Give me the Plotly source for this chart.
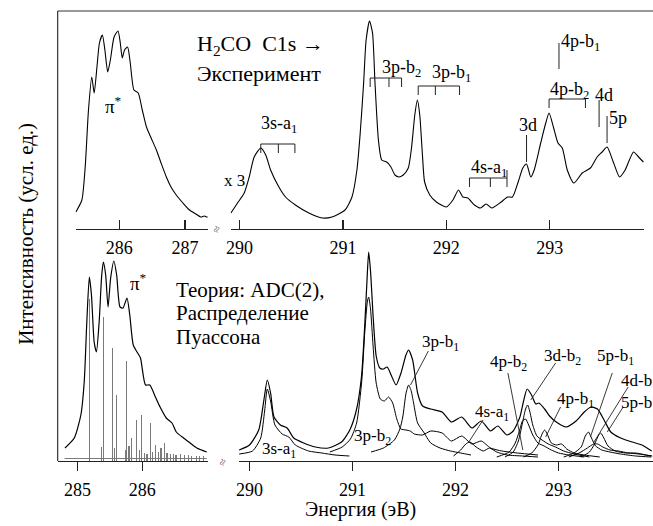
import plotly.graph_objects as go

W, H = 653, 526
def px(x): return x / W
def py(y): return 1 - y / H

FONT = "Liberation Serif, Times New Roman, serif"

# ---------------- DATA ----------------
# Experiment, pi* region (eV, arb. units)
exp_pi_E = [285.338, 285.429, 285.48, 285.53, 285.58, 285.617, 285.659, 285.697, 285.742, 285.78,
            285.823, 285.864, 285.92, 285.98, 286.015, 286.045, 286.08, 286.126, 286.167, 286.223,
            286.288, 286.35, 286.414, 286.485, 286.565, 286.636, 286.717, 286.788, 286.868, 286.97,
            287.07, 287.167, 287.242, 287.3, 287.326, 287.35]
exp_pi_I = [17, 29, 62, 119, 152, 136, 162, 186, 194, 179,
            157, 169, 192, 198, 186, 171, 179, 182, 166, 139,
            136, 119, 102, 91, 79, 66, 52, 42, 34, 26,
            19, 15, 12, 13, 12, 12]

# Experiment, Rydberg region (x3)
exp_ry_E = [289.916, 289.98, 290.045, 290.093, 290.141, 290.205, 290.253, 290.30, 290.38, 290.445,
            290.54, 290.67, 290.80, 290.894, 291.02, 291.087, 291.135, 291.167, 291.2, 291.224,
            291.257, 291.286, 291.31, 291.343, 291.375, 291.423, 291.464, 291.503, 291.541, 291.583,
            291.632, 291.663, 291.695, 291.72, 291.743, 291.769, 291.79, 291.84, 291.904, 292.0,
            292.064, 292.118, 292.16, 292.208, 292.272, 292.33, 292.385, 292.44, 292.53, 292.593,
            292.64, 292.695, 292.74, 292.776, 292.817, 292.85, 292.913, 292.962, 292.994, 293.036,
            293.08, 293.122, 293.17, 293.234, 293.315, 293.394, 293.459, 293.507, 293.555, 293.619,
            293.676, 293.73, 293.811, 293.86, 293.907]
exp_ry_I = [16, 26, 36, 52, 72, 81, 74, 59, 42, 32,
            24, 16, 11, 12, 19, 32, 59, 96, 146, 189,
            208, 196, 146, 89, 69, 67, 62, 54, 52, 54,
            61, 81, 114, 129, 114, 74, 47, 34, 27, 22,
            29, 39, 32, 31, 24, 21, 25, 21, 27, 32,
            32, 47, 61, 65, 52, 59, 86, 106, 116, 102,
            86, 81, 59, 46, 56, 61, 72, 77, 82, 66,
            52, 59, 77, 72, 67]

# Theory, pi* region: envelope and Poisson stick spectrum
th_pi_E = [284.805, 284.949, 285.051, 285.103, 285.143, 285.182, 285.215, 285.257, 285.292, 285.334,
           285.374, 285.40, 285.435, 285.472, 285.512, 285.562, 285.605, 285.657, 285.703, 285.765,
           285.808, 285.862, 285.93, 285.974, 286.051, 286.118, 286.205, 286.277, 286.374, 286.462,
           286.528, 286.64, 286.743, 286.846, 287.0]
th_pi_I = [13, 23, 46, 79, 139, 184, 166, 119, 109, 139,
           186, 199, 186, 154, 183, 200, 186, 154, 153, 163,
           146, 116, 108, 103, 76, 76, 64, 54, 43, 38,
           29, 23, 18, 13, 9]

stick_E = [285.18, 285.374, 285.40, 285.538, 285.574, 285.605, 285.743, 285.759, 285.795, 285.83,
           285.913, 285.954, 285.985, 286.036, 286.077, 286.128, 286.164, 286.205, 286.257, 286.292,
           286.349, 286.385, 286.436, 286.487, 286.523, 286.59, 286.651, 286.718, 286.769, 286.836,
           286.887, 286.949]
stick_I = [162, 14, 144, 113, 13, 66, 11, 100, 15, 23,
           41, 11, 46, 8, 7, 38, 9, 16, 9, 13,
           18, 8, 7, 7, 6, 7, 6, 6, 5, 5,
           5, 5]

# Theory, Rydberg region: total spectrum
th_tot_E = [289.90, 290.00, 290.09, 290.14, 290.173, 290.205, 290.238, 290.30, 290.365, 290.43,
            290.526, 290.64, 290.766, 290.894, 290.974, 291.038, 291.087, 291.118, 291.141, 291.157,
            291.175, 291.20, 291.23, 291.265, 291.30, 291.337, 291.375, 291.423, 291.471, 291.519,
            291.545, 291.584, 291.632, 291.68, 291.76, 291.87, 291.96, 292.06, 292.16, 292.25,
            292.34, 292.41, 292.50, 292.56, 292.625, 292.663, 292.695, 292.738, 292.779, 292.81,
            292.865, 292.913, 292.978, 293.074, 293.17, 293.25, 293.314, 293.378, 293.442, 293.507,
            293.603, 293.714, 293.81, 293.904]
th_tot_I = [11, 16, 31, 61, 81, 68, 44, 36, 33, 23,
            18, 14, 13, 19, 31, 51, 84, 134, 181, 209,
            190, 145, 105, 93, 92, 94, 86, 76, 88, 106,
            111, 101, 68, 55, 52, 49, 39, 44, 33, 40,
            30, 35, 26, 30, 44, 61, 72, 66, 57, 58,
            52, 45, 39, 34, 40, 49, 54, 52, 41, 29,
            23, 19, 16, 10]

# Theory components
c3s_E = [289.90, 290.03, 290.109, 290.147, 290.173, 290.205, 290.247, 290.317, 290.382, 290.445,
         290.574, 290.702, 290.83, 290.97]
c3s_I = [7, 10, 23, 50, 72, 60, 36, 27, 24, 16, 10, 8, 6, 5]

c3pb2_E = [290.78, 290.90, 290.98, 291.04, 291.09, 291.12, 291.145, 291.157, 291.175, 291.20,
           291.23, 291.27, 291.31, 291.35, 291.39, 291.43, 291.47, 291.52, 291.56, 291.60,
           291.68, 291.76, 291.87, 291.96, 292.06, 292.16, 292.25, 292.34, 292.45, 292.6, 292.8]
c3pb2_I = [9, 14, 22, 38, 80, 130, 160, 164, 152, 115,
           78, 62, 60, 64, 58, 42, 32, 31, 30, 27,
           26, 30, 28, 20, 25, 17, 20, 13, 10, 8, 6]

c3pb1_E = [291.18, 291.30, 291.407, 291.46, 291.488, 291.52, 291.545, 291.57, 291.593, 291.632,
           291.69, 291.76, 291.85, 291.95, 292.05, 292.15]
c3pb1_I = [9, 13, 21, 32, 44, 68, 76, 70, 58, 38, 29, 18, 13, 10, 8, 6]

c4sa1_E = [291.98, 292.05, 292.10, 292.14, 292.20, 292.27, 292.33, 292.40, 292.50, 292.65, 292.8]
c4sa1_I = [5, 11, 17, 19, 14, 10, 13, 9, 6, 5, 4]

c4pb2_E = [292.40, 292.52, 292.58, 292.62, 292.65, 292.68, 292.71, 292.75, 292.80, 292.86,
           292.93, 293.0, 293.1, 293.25]
c4pb2_I = [4, 9, 18, 30, 40, 42, 36, 26, 18, 15, 11, 8, 6, 4]

c3db2_E = [292.48, 292.56, 292.61, 292.65, 292.68, 292.70, 292.72, 292.75, 292.79, 292.84,
           292.90, 292.97, 293.05, 293.15, 293.3]
c3db2_I = [4, 9, 20, 38, 52, 56, 50, 36, 25, 21, 17, 14, 10, 7, 4]

c4pb1_E = [292.66, 292.74, 292.80, 292.84, 292.865, 292.89, 292.93, 292.98, 293.03, 293.08,
           293.15, 293.25, 293.4]
c4pb1_I = [4, 8, 16, 27, 31, 27, 18, 16, 17, 12, 8, 6, 4]

c5pb1_E = [293.05, 293.15, 293.22, 293.26, 293.29, 293.32, 293.36, 293.42, 293.5, 293.6, 293.75, 293.9]
c5pb1_I = [4, 8, 14, 25, 29, 23, 15, 11, 9, 7, 5, 4]

c4db_E = [293.1, 293.2, 293.28, 293.34, 293.38, 293.43, 293.5, 293.58, 293.68, 293.78, 293.9]
c4db_I = [4, 8, 13, 17, 17, 14, 11, 10, 8, 7, 5]

c5pb_E = [293.22, 293.30, 293.35, 293.39, 293.41, 293.44, 293.48, 293.55, 293.65, 293.75, 293.85, 293.91]
c5pb_I = [4, 9, 17, 26, 28, 23, 15, 10, 8, 8, 6, 5]

# Axis ticks
ticks_pi_exp = [286, 287]
ticks_pi_th = [285, 286]
ticks_ry = [290, 291, 292, 293]

# Experimental assignment brackets: (label, energies, bracket level)
exp_brackets = [
    ("3s-a<sub>1</sub>", [290.205, 290.375, 290.535], 85),
    ("3p-b<sub>2</sub>", [291.263, 291.445, 291.567], 151),
    ("3p-b<sub>1</sub>", [291.728, 291.894, 292.128], 143),
    ("4s-a<sub>1</sub>", [292.224, 292.426, 292.587], 51),
    ("4p-b<sub>2</sub>", [292.994, 293.346], 130),
]
exp_marks = [  # (label, energy, low, high)
    ("3d", 292.776, 67, 94),
    ("4p-b<sub>1</sub>", 293.09, 160, 186),
    ("4d", 293.478, 102, 129),
    ("5p", 293.555, 86, 113),
]

# ---------------- FIGURE ----------------
fig = go.Figure()
ln = dict(color="black", width=1.1, shape="spline", smoothing=0.6)

def add(xs, ys, xa, ya, width=1.1):
    fig.add_trace(go.Scatter(x=xs, y=ys, mode="lines", xaxis=xa, yaxis=ya,
                             line=dict(ln, width=width), showlegend=False, hoverinfo="skip"))

add(exp_pi_E, exp_pi_I, "x", "y")
add(exp_ry_E, exp_ry_I, "x2", "y2")

fig.add_trace(go.Bar(x=stick_E, y=stick_I, xaxis="x3", yaxis="y3", width=0.02,
                     marker=dict(color="#7a7a7a", line=dict(width=0)), showlegend=False,
                     hoverinfo="skip"))
add(th_pi_E, th_pi_I, "x3", "y3", 1.2)

add(th_tot_E, th_tot_I, "x4", "y4", 1.2)
for e, i in [(c3s_E, c3s_I), (c3pb2_E, c3pb2_I), (c3pb1_E, c3pb1_I), (c4sa1_E, c4sa1_I),
             (c4pb2_E, c4pb2_I), (c3db2_E, c3db2_I), (c4pb1_E, c4pb1_I), (c5pb1_E, c5pb1_I),
             (c4db_E, c4db_I), (c5pb_E, c5pb_I)]:
    add(e, i, "x4", "y4", 1.0)

axc = dict(showgrid=False, zeroline=False, showline=True, linecolor="#222", linewidth=1.2,
           tickcolor="#222", tickwidth=1.2, ticklen=9, tickmode="array", side="bottom",
           ticklabelposition="outside",
           tickfont=dict(family=FONT, size=18, color="black"))
yc = dict(visible=False, showgrid=False, zeroline=False)

fig.update_layout(
    width=W, height=H, autosize=False,
    margin=dict(l=0, r=0, t=0, b=0),
    paper_bgcolor="white", plot_bgcolor="rgba(0,0,0,0)",
    showlegend=False, bargap=0,
    xaxis=dict(axc, domain=[px(72), px(205)], range=[285.333, 287.348], anchor="y",
               ticks="inside", tickvals=ticks_pi_exp, ticklabelstandoff=2),
    yaxis=dict(yc, domain=[py(229), py(11)], range=[0, 218], anchor="x"),
    xaxis2=dict(axc, domain=[px(228), px(644)], range=[289.913, 293.913], anchor="y2",
                ticks="inside", tickvals=ticks_ry, ticklabelstandoff=2),
    yaxis2=dict(yc, domain=[py(229), py(11)], range=[0, 218], anchor="x2"),
    xaxis3=dict(axc, domain=[px(54), px(205)], range=[284.692, 287.015], anchor="y3",
                ticks="outside", tickvals=ticks_pi_th, ticklabelstandoff=3),
    yaxis3=dict(yc, domain=[py(461), py(245)], range=[0, 216], anchor="x3"),
    xaxis4=dict(axc, domain=[px(236), 1.0], range=[289.894, 293.917], anchor="y4",
                ticks="outside", tickvals=ticks_ry, ticklabelstandoff=3),
    yaxis4=dict(yc, domain=[py(461), py(245)], range=[0, 216], anchor="x4"),
)

shapes = []
frame = dict(color="#333", width=1.2)
shapes.append(dict(type="line", xref="paper", yref="paper", x0=px(54), x1=px(653),
                   y0=py(11), y1=py(11), line=frame))
shapes.append(dict(type="line", xref="paper", yref="paper", x0=px(54), x1=px(54),
                   y0=py(11), y1=py(461), line=frame))
# stick baseline
shapes.append(dict(type="line", xref="x3", yref="y3", x0=284.80, x1=287.0, y0=2.5, y1=2.5,
                   line=dict(color="#7a7a7a", width=1.2)))

br = dict(color="#222", width=1)
for lab, es, lev in exp_brackets:
    shapes.append(dict(type="line", xref="x2", yref="y2", x0=es[0], x1=es[-1], y0=lev, y1=lev, line=br))
    for e in es:
        shapes.append(dict(type="line", xref="x2", yref="y2", x0=e, x1=e, y0=lev - 9, y1=lev, line=br))
for lab, e, lo, hi in exp_marks:
    shapes.append(dict(type="line", xref="x2", yref="y2", x0=e, x1=e, y0=lo, y1=hi, line=br))
# tall right tick of 4s-a1 bracket
shapes.append(dict(type="line", xref="x2", yref="y2", x0=292.587, x1=292.587, y0=51, y1=59, line=br))

# theory pointer lines (pixel positions)
pointers = [((427, 351), (409, 385)),
            ((482, 420), (467, 443)),
            ((507, 373), (522, 450)),
            ((555, 363), (530, 400)),
            ((560, 407), (545, 437)),
            ((612, 373), (590, 437)),
            ((628, 387), (593, 443)),
            ((623, 407), (607, 432))]
for (xa, ya), (xb, yb) in pointers:
    shapes.append(dict(type="line", xref="paper", yref="paper", x0=px(xa), y0=py(ya),
                       x1=px(xb), y1=py(yb), line=dict(color="#222", width=0.9)))
fig.update_layout(shapes=shapes)

anns = []
def T(text, x, y, size=18, xanchor="center", angle=0, color="black"):
    anns.append(dict(text=text, xref="paper", yref="paper", x=px(x), y=py(y), showarrow=False,
                     xanchor=xanchor, yanchor="middle", textangle=angle,
                     font=dict(family=FONT, size=size, color=color)))

T("H<sub>2</sub>CO\u00a0\u00a0C1s\u00a0→", 192, 45, 22, "left")
T("Эксперимент", 192, 74, 22, "left")
T("x\u00a03", 232, 180, 17)
T("π<sup>*</sup>", 110, 105, 19)
# experimental labels
T("3s-a<sub>1</sub>", 277, 124)
T("3p-b<sub>2</sub>", 400, 68)
T("3p-b<sub>1</sub>", 450, 73)
T("4s-a<sub>1</sub>", 488, 168)
T("3d", 527, 125)
T("4p-b<sub>2</sub>", 569, 90)
T("4p-b<sub>1</sub>", 580, 42)
T("4d", 604, 95)
T("5p", 618, 118)

# theory text
T("π<sup>*</sup>", 135, 282, 19)
T("Теория: ADC(2),", 171, 290, 21, "left")
T("Распределение", 171, 313, 21, "left")
T("Пуассона", 171, 337, 21, "left")
T("3s-a<sub>1</sub>", 277, 450, 17)
T("3p-b<sub>2</sub>", 371, 437, 17)
T("3p-b<sub>1</sub>", 439, 343, 17)
T("4s-a<sub>1</sub>", 491, 413, 17)
T("4p-b<sub>2</sub>", 508, 363, 17)
T("3d-b<sub>2</sub>", 562, 357, 17)
T("4p-b<sub>1</sub>", 575, 400, 17)
T("5p-b<sub>1</sub>", 615, 357, 17)
T("4d-b", 619, 380, 17, "left")
T("5p-b", 619, 402, 17, "left")

# break marks
T("≈", 214, 229, 12, angle=-70, color="#666")
T("≈", 220, 462, 12, angle=-70, color="#666")

# axis titles
T("Интенсивность (усл. ед.)", 22, 234, 21, angle=-90)
T("Энергия (эВ)", 359, 509, 20)

fig.update_layout(annotations=anns)
fig.write_html("out.html", config={"displayModeBar": False, "staticPlot": True},
               post_script="document.body.style.margin='0px';")
